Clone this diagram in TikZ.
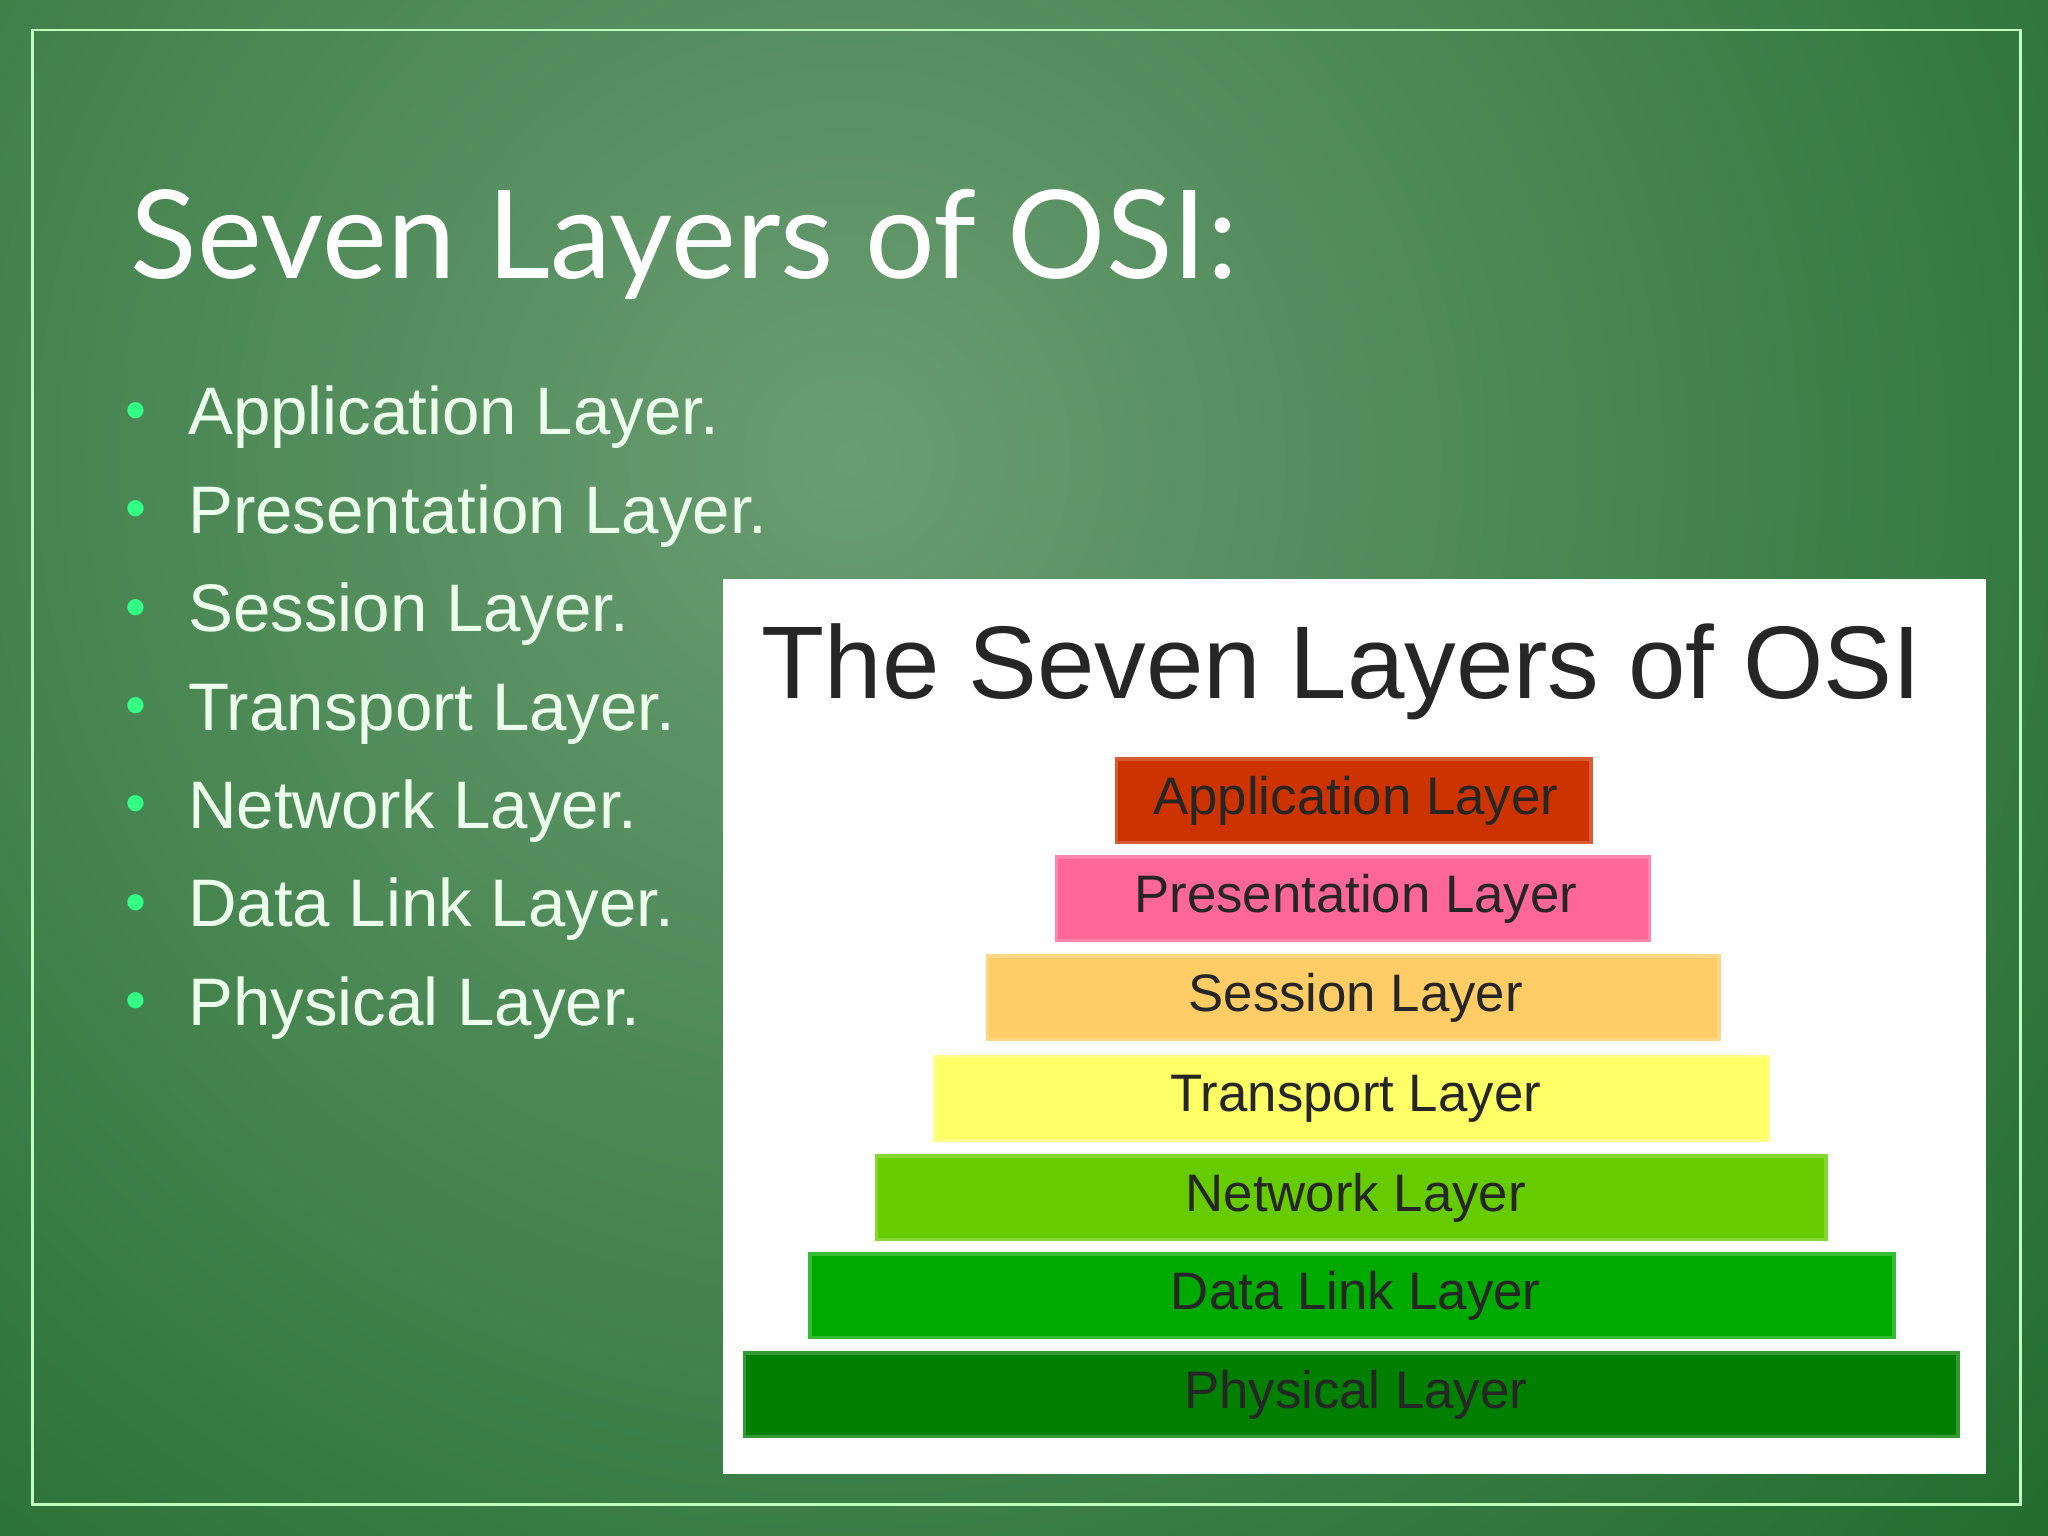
\documentclass[tikz,border=0pt]{standalone}
\usepackage{fontspec}
\setmainfont{Liberation Sans}
\newfontfamily\titlefont{Lato}
\begin{document}
\begin{tikzpicture}[x=0.02cm,y=-0.02cm,
  ltext/.style={font=\fontsize{23}{28}\selectfont,text=black!85},
  bul/.style={anchor=base west,text=white!92!green,font=\fontsize{29.3}{34}\selectfont}]
\definecolor{bgin}{HTML}{6A9C72}
\definecolor{bgout}{HTML}{1E6A2A}
\useasboundingbox (0,0) rectangle (1568,1176);
\shade[inner color=bgin,outer color=bgout] (-650,-950) rectangle (1950,1650);
\draw[white!75!green,line width=1.2pt] (25,23) rectangle (1547,1152);
\node[anchor=base west,text=white,font=\titlefont\fontsize{53.5}{60}\selectfont] (title) at (94,213) {Seven Layers of OSI:};
\foreach \t [count=\i] in {Application Layer.,Presentation Layer.,Session Layer.,Transport Layer.,Network Layer.,Data Link Layer.,Physical Layer.}{
  \node[bul] (b\i) at (138,316+75.3*\i-75.3+17) {\t};
  \node[text=green!60!cyan!80!white,font=\fontsize{26}{26}\selectfont] (d\i) at (104,319+75.3*\i-75.3) {\textbullet};
}
\node[fill=white,minimum width=967*0.02cm,minimum height=685*0.02cm,anchor=north west,inner sep=0pt] (box) at (553,443) {};
\node[text=black!85,font=\fontsize{45}{54}\selectfont,anchor=base] (bt) at (1027,535) {The Seven Layers of OSI};
\definecolor{c1}{HTML}{CC3300}\definecolor{c2}{HTML}{FF6699}\definecolor{c3}{HTML}{FFCC66}
\definecolor{c4}{HTML}{FFFF66}\definecolor{c5}{HTML}{66CC00}\definecolor{c6}{HTML}{00AA00}\definecolor{c7}{HTML}{007F00}
\foreach \xa/\xb/\ya/\c/\t [count=\i] in {855/1218/581/c1/Application Layer,809/1263/656/c2/Presentation Layer,756/1316/732/c3/Session Layer,716/1354/809/c4/Transport Layer,671/1398/885/c5/Network Layer,620/1450/960/c6/Data Link Layer,570/1499/1036/c7/Physical Layer}{
  \draw[draw=\c!80!white,line width=1.5pt,fill=\c] (\xa,\ya) rectangle (\xb,\ya+64);
  \node[ltext] (L\i) at (1038,\ya+32) {\t};
}
\end{tikzpicture}
\end{document}
